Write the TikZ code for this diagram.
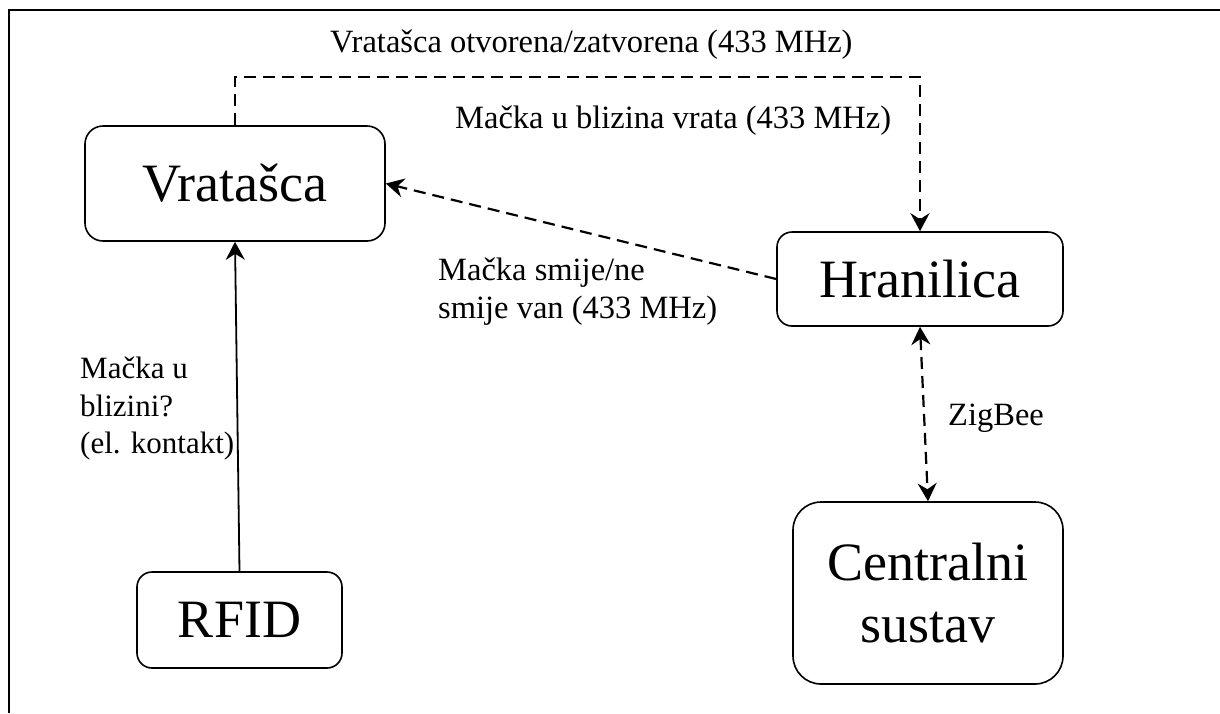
\documentclass[tikz,border=0pt]{standalone}
\usepackage{fontspec}
\setmainfont{Liberation Serif}
\usetikzlibrary{arrows.meta,calc}
\begin{document}
\begin{tikzpicture}[x=1pt,y=-1pt,
  box/.style={draw,line width=1.6pt,rounded corners=#1,inner sep=0pt,align=center,
    font=\fontsize{54}{62}\selectfont},
  lbl/.style={inner sep=0pt,align=left,font=\fontsize{32.5}{38}\selectfont},
  conn/.style={line width=1.8pt,-{Stealth[length=18pt,width=19pt,inset=6pt]}},
  dconn/.style={conn,line width=2.2pt,dash pattern=on 12pt off 7pt},
  ddconn/.style={dconn,{Stealth[length=18pt,width=19pt,inset=6pt]}-{Stealth[length=18pt,width=19pt,inset=6pt]}}
]
\useasboundingbox (0,0) rectangle (1220,713);
\draw[line width=2pt] (9,713) -- (9,10) -- (1220,10);

\node[box=18pt,minimum width=300pt,minimum height=115pt] (vrat) at (235,183.5) {Vratašca};
\node[box=15pt,minimum width=286pt,minimum height=94pt] (hran) at (920,279) {Hranilica};
\node[box=28pt,minimum width=270pt,minimum height=182pt] (cent) at (928,593) {Centralni\\sustav};
\node[box=15pt,minimum width=205pt,minimum height=96pt] (rfid) at (239.5,620) {RFID};

\coordinate (top) at (600,77);
\draw[dconn] (vrat.north) |- (top) -| (hran.north);
\draw[dconn] (hran.west) -- (vrat.east);
\draw[conn] (rfid.north) -- (vrat.south);
\draw[ddconn] (hran.south) -- (cent.north);

\node[lbl,anchor=base west] (l1) at (330,52) {Vratašca otvorena/zatvorena (433 MHz)};
\node[lbl,anchor=base west] (l2) at (455,128) {Mačka u blizina vrata (433 MHz)};
\node[lbl,anchor=north west] (l3) at (438,258) {Mačka smije/ne\\smije van (433 MHz)};
\node[lbl,anchor=north west,font=\fontsize{31}{37.5}\selectfont] (l4) at (80,357) {Mačka u\\blizini?\\(el. kontakt)};
\node[lbl,anchor=base west] (l5) at (948,425) {ZigBee};
\end{tikzpicture}
\end{document}
